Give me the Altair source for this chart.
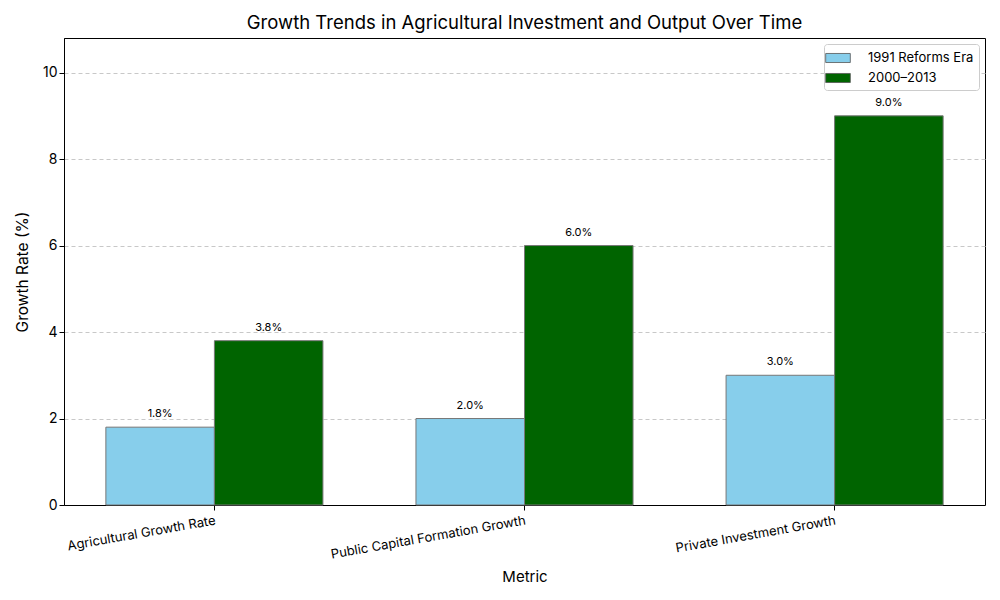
import altair as alt
import pandas as pd

categories = ["Agricultural Growth Rate", "Public Capital Formation Growth", "Private Investment Growth"]
series = ["1991 Reforms Era", "2000–2013"]
era_1991 = [1.8, 2.0, 3.0]
era_2000 = [3.8, 6.0, 9.0]
colors = ["#87CEEB", "#006400"]

rows = []
for c, a, b in zip(categories, era_1991, era_2000):
    rows.append({"Metric": c, "Era": series[0], "value": a})
    rows.append({"Metric": c, "Era": series[1], "value": b})
df = pd.DataFrame(rows)

FONT = "Inter"

x = alt.X("Metric:N", sort=categories, title="Metric",
          scale=alt.Scale(paddingInner=0.3, paddingOuter=0.135),
          axis=alt.Axis(labelAngle=-10, labelAlign="right", labelBaseline="top",
                        labelFontSize=13, titleFontSize=15, titleFontWeight="normal",
                        titlePadding=8, tickColor="black", domainColor="black",
                        labelColor="black", titleColor="black", grid=False, labelPadding=4,
                        labelLimit=400))
xo = alt.XOffset("Era:N", sort=series, scale=alt.Scale(paddingInner=0, paddingOuter=0))
y = alt.Y("value:Q", title="Growth Rate (%)",
          scale=alt.Scale(domain=[0, 10.8], nice=False),
          axis=alt.Axis(values=[0, 2, 4, 6, 8, 10], labelFontSize=14, titleFontSize=15.5,
                        titleFontWeight="normal", grid=True, gridDash=[4, 3],
                        gridColor="#c8c8c8", tickColor="black", domainColor="black",
                        labelColor="black", titleColor="black", titlePadding=12))

base = alt.Chart(df)

bars = base.mark_bar(stroke="#777777", strokeWidth=1).encode(
    x=x, xOffset=xo, y=y,
    color=alt.Color("Era:N", sort=series,
                    scale=alt.Scale(domain=series, range=colors),
                    legend=alt.Legend(title=None, orient="top-right", offset=6,
                                      labelFontSize=13, symbolType="M-1.5,-0.55H1.5V0.55H-1.5Z",
                                      symbolSize=270, symbolStrokeColor="#555555",
                                      symbolStrokeWidth=0.8,
                                      strokeColor="#cccccc", fillColor="white",
                                      padding=5, cornerRadius=3, rowPadding=4,
                                      labelOffset=21, labelColor="black")),
)

labels = base.mark_text(dy=-13, fontSize=11, font=FONT, color="black").transform_calculate(
    label="format(datum.value, '.1f') + '%'"
).encode(x=x, xOffset=xo, y=y, text="label:N")

chart = (bars + labels).properties(
    width=921, height=467,
    title=alt.Title("Growth Trends in Agricultural Investment and Output Over Time",
                    fontSize=18.5, fontWeight="normal", font=FONT, color="black", offset=6),
    autosize=alt.AutoSizeParams(type="none"),
    padding={"left": 56, "top": 30, "right": 7, "bottom": 85},
).configure(font=FONT).configure_view(stroke="black", strokeWidth=1)

chart.save("out.html", embed_options={"renderer": "svg", "actions": False})
